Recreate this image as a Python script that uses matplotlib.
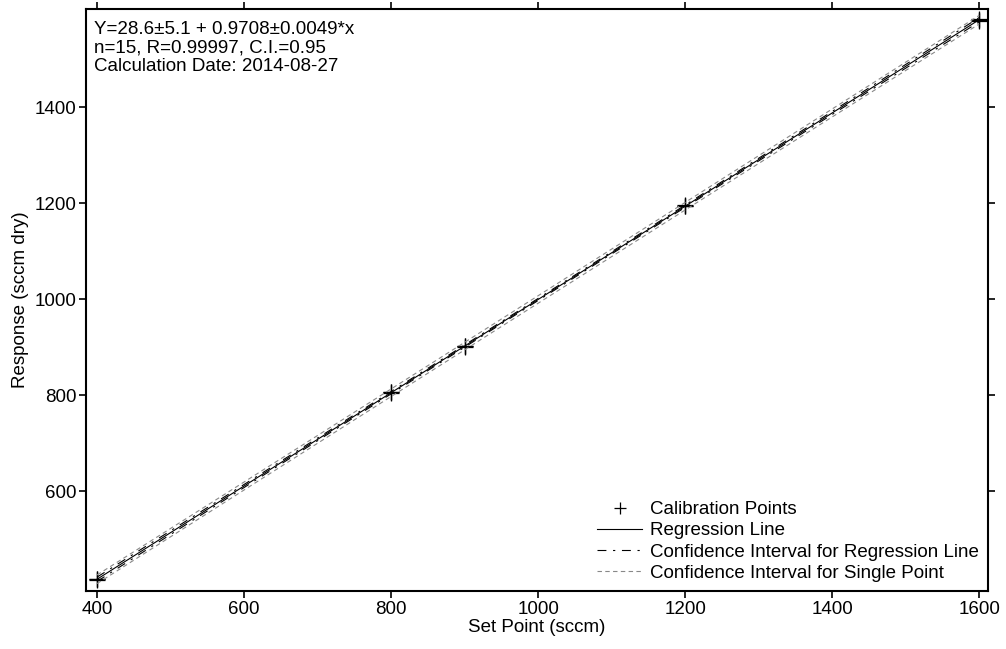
import numpy as np
import matplotlib
matplotlib.use('Agg')
import matplotlib.pyplot as plt

plt.rcParams['font.family'] = ['Liberation Sans', 'DejaVu Sans']

# calibration data (set point -> measured response)
set_points = [400, 400, 400, 800, 800, 800, 900, 900, 900,
              1200, 1200, 1200, 1600, 1600, 1600]
responses = [416, 417, 418, 804, 806, 807, 901, 902, 903,
             1193, 1195, 1196, 1580, 1582, 1583]

# fit results as printed on the chart
intercept = 28.6
slope = 0.9708

# grid for the lines and the half widths of the confidence bands
x_grid = [400, 600, 800, 1000, 1200, 1400, 1600]
ci_reg = [4.5, 3.2, 2.4, 2.2, 2.4, 3.2, 4.5]
ci_single = [9.0, 8.3, 7.9, 7.8, 7.9, 8.3, 9.0]

x = np.array(x_grid, dtype=float)
y = intercept + slope * x

fig = plt.figure(figsize=(10.06, 6.49), dpi=100)
ax = fig.add_axes([0.0855, 0.089, 0.8966, 0.897])

ax.plot(set_points, responses, '+', color='black', ms=11, mew=0.9,
        label='Calibration Points')
ax.plot(x, y, '-', color='black', lw=0.8, label='Regression Line')
ax.plot(x, y + np.array(ci_reg), color='black', lw=0.8,
        dashes=(8, 6, 2, 6), label='Confidence Interval for Regression Line')
ax.plot(x, y - np.array(ci_reg), color='black', lw=0.8, dashes=(8, 6, 2, 6))
ax.plot(x, y + np.array(ci_single), color='#888888', lw=0.8,
        dashes=(4, 3), label='Confidence Interval for Single Point')
ax.plot(x, y - np.array(ci_single), color='#888888', lw=0.8, dashes=(4, 3))

ax.set_xlim(385, 1612)
ax.set_ylim(392, 1604)
ax.set_xticks([400, 600, 800, 1000, 1200, 1400, 1600])
ax.set_yticks([600, 800, 1000, 1200, 1400])
ax.tick_params(direction='out', length=5, width=1.2, labelsize=13.5,
               top=True, right=True, colors='black', pad=2)
for s in ax.spines.values():
    s.set_linewidth(1.5)

ax.set_xlabel('Set Point (sccm)', fontsize=13.5, labelpad=1)
ax.set_ylabel('Response (sccm dry)', fontsize=13.5, labelpad=4)

ax.text(0.009, 0.98,
        'Y=28.6\u00b15.1 + 0.9708\u00b10.0049*x\n'
        'n=15, R=0.99997, C.I.=0.95\n'
        'Calculation Date: 2014-08-27',
        transform=ax.transAxes, va='top', ha='left', fontsize=13.5,
        linespacing=1.12)

ax.legend(loc='lower right', frameon=False, fontsize=13.5, handlelength=2.4,
          handletextpad=0.4, labelspacing=0.22, borderaxespad=0.1,
          markerscale=0.8)

fig.savefig('out.png', dpi=100)
